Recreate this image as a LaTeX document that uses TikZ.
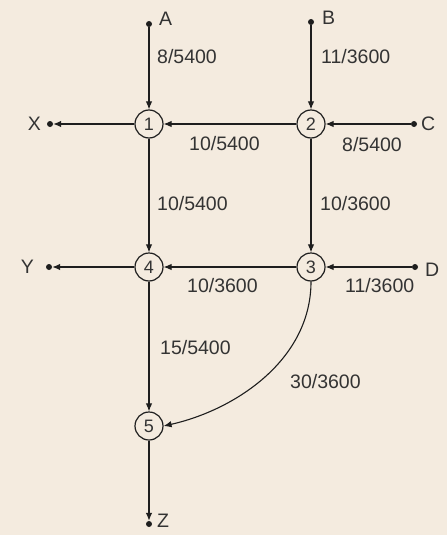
\documentclass[tikz,border=0pt]{standalone}
\usepackage{fontspec}
\setmainfont{Liberation Sans}
\usetikzlibrary{arrows.meta}
\definecolor{bg}{HTML}{F4EBDF}
\definecolor{ink}{HTML}{1E1E1E}
\definecolor{txt}{HTML}{333333}
\begin{document}
\begin{tikzpicture}[x=1pt,y=-1pt,
  st/.style={circle,draw=ink,line width=1.2pt,minimum size=28pt,inner sep=0pt,text=txt,font=\fontsize{18}{18}\selectfont},
  dot/.style={circle,fill=ink,inner sep=0pt,minimum size=6pt},
  lbl/.style={inner sep=0pt,anchor=west,text=txt,font=\fontsize{19.5}{20}\selectfont},
  arr/.style={draw=ink,line width=1.1pt,-{Latex[length=8pt,width=6.5pt]}}]
\fill[bg] (0,0) rectangle (447,535);
\useasboundingbox (0,0) rectangle (447,535);
% junction nodes
\node[st] (n1) at (149,124) {1};
\node[st] (n2) at (311,124) {2};
\node[st] (n3) at (311,267) {3};
\node[st] (n4) at (149,267) {4};
\node[st] (n5) at (149,426) {5};
% terminals
\node[dot] (a) at (149,24) {};
\node[dot] (b) at (311,22) {};
\node[dot] (c) at (414,124) {};
\node[dot] (d) at (415,267) {};
\node[dot] (x) at (50,124) {};
\node[dot] (y) at (49,267) {};
\node[dot] (z) at (149,524) {};
\node[lbl] (la) at (159,19) {A};
\node[lbl] (lb) at (322,18) {B};
\node[lbl] (lc) at (421,124) {C};
\node[lbl] (ld) at (425,270) {D};
\node[lbl,anchor=east] (lx) at (41,124) {X};
\node[lbl,anchor=east] (ly) at (34,267) {Y};
\node[lbl] (lz) at (157,521) {Z};
% edges
\draw[arr] (a) -- (n1);
\draw[arr] (b) -- (n2);
\draw[arr] (c) -- (n2);
\draw[arr] (d) -- (n3);
\draw[arr] (n2) -- (n1);
\draw[arr] (n1) -- (n4);
\draw[arr] (n2) -- (n3);
\draw[arr] (n3) -- (n4);
\draw[arr] (n4) -- (n5);
\draw[arr] (n1) -- (x);
\draw[arr] (n4) -- (y);
\draw[arr] (n5) -- (z);
\draw[arr] (n3.south) .. controls (311,360) and (235,410) .. (n5.east);
% edge labels
\node[lbl] (e1) at (157,57) {8/5400};
\node[lbl] (e2) at (321,57) {11/3600};
\node[lbl] (e3) at (189,144) {10/5400};
\node[lbl] (e4) at (342,145) {8/5400};
\node[lbl] (e5) at (157,204) {10/5400};
\node[lbl] (e6) at (320,204) {10/3600};
\node[lbl] (e7) at (187,286) {10/3600};
\node[lbl] (e8) at (345,286) {11/3600};
\node[lbl] (e9) at (160,348) {15/5400};
\node[lbl] (e10) at (290,382) {30/3600};
\end{tikzpicture}
\end{document}
